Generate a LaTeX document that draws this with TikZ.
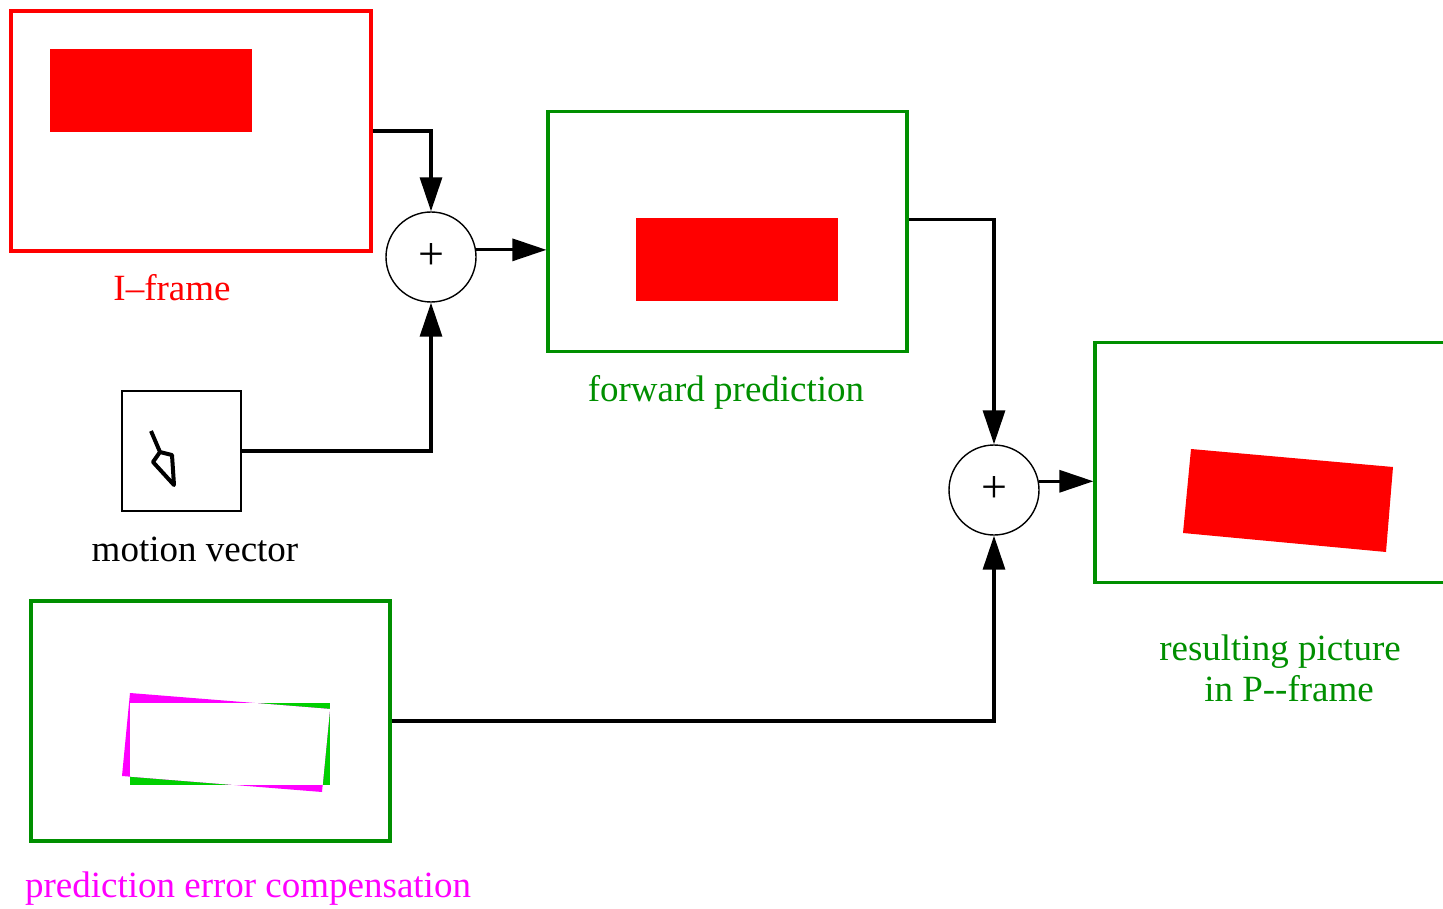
\documentclass[tikz,border=0pt]{standalone}
\usepackage{fontspec}
\setmainfont{Liberation Serif}
\usetikzlibrary{arrows.meta, positioning, calc}
\definecolor{framered}{HTML}{FF0000}
\definecolor{framegreen}{HTML}{008F00}
\definecolor{errmagenta}{HTML}{FF00FF}
\definecolor{errgreen}{HTML}{00D000}

\begin{document}
\begin{tikzpicture}[x=1pt, y=-1pt,
  frame/.style={rectangle, draw, line width=3.2pt, minimum width=359pt, minimum height=240pt, inner sep=0pt},
  sumnode/.style={circle, draw, line width=1.4pt, minimum size=90pt, inner sep=0pt, font=\fontsize{46}{46}\selectfont},
  caption/.style={font=\fontsize{37}{41}\selectfont, align=center},
  arrow/.style={-{Triangle[length=34pt,width=22pt]}, line width=3.2pt}
]
  \useasboundingbox (0,0) rectangle (1443,909);

  % frames
  \node[frame, draw=framered, minimum width=360pt] (iframe) at (191,131) {};
  \node[frame, draw=framegreen] (fwd) at (727.5,231.5) {};
  \node[frame, draw=framegreen, minimum width=360pt] (result) at (1275,462.5) {};
  \node[frame, draw=framegreen] (errbox) at (210.5,721) {};
  \node[rectangle, draw, line width=1.6pt, minimum width=119pt, minimum height=120pt, inner sep=0pt] (mvbox) at (181.5,451) {};

  % picture contents
  \fill[framered] (50,49) rectangle (252,132);
  \fill[framered] (636,218) rectangle (838,301);
  \fill[framered] (1191,449) -- (1393,467) -- (1386,552) -- (1183,533) -- cycle;
  \draw[line width=4pt, line join=round] (151,431) -- (160,452) -- (172,455) -- (174,485) -- (153,462) -- (160,452);
  \fill[errgreen] (130,703) rectangle (330,785);
  \fill[errmagenta] (130,693) -- (330,709) -- (322,792) -- (122,776) -- cycle;
  \begin{scope}
    \clip (130,693) -- (330,709) -- (322,792) -- (122,776) -- cycle;
    \fill[white] (130,703) rectangle (330,785);
  \end{scope}

  % adders
  \node[sumnode] (plus1) at (431,257) {+};
  \node[sumnode] (plus2) at (994,490) {+};

  % captions
  \node[caption, text=framered] (iframelabel) at (172,288) {I--frame};
  \node[caption] (mvlabel) at (195,549) {motion vector};
  \node[caption, text=framegreen] (fwdlabel) at (726,392) {forward prediction};
  \node[caption, text=framegreen] (resultlabel) at (1280,668) {resulting picture\\ \hspace*{18pt}in P-{}-frame};
  \node[caption, text=errmagenta] (errlabel) at (248,889) {prediction error compensation};

  % connectors
  \draw[arrow] (iframe.east) -| (plus1.north);
  \draw[arrow] (mvbox.east) -| (plus1.south);
  \draw[arrow] (plus1.9) -- (plus1.9 -| fwd.west);
  \draw[arrow] ($(fwd.north east)!0.45!(fwd.south east)$) -| (plus2.north);
  \draw[arrow] (errbox.east) -| (plus2.south);
  \draw[arrow] (plus2.11) -- (plus2.11 -| result.west);
\end{tikzpicture}
\end{document}
